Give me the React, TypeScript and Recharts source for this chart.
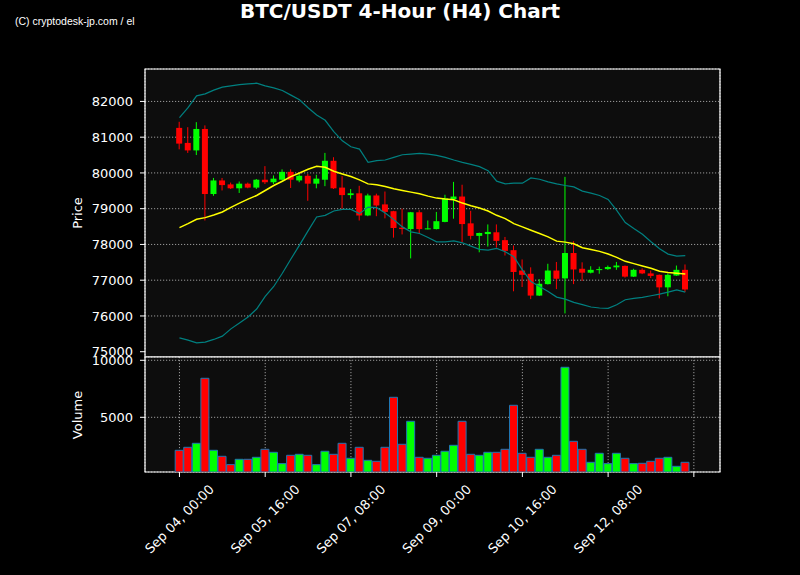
import React from 'react';
import { ComposedChart, Bar, Line, XAxis, YAxis, CartesianGrid, Cell, ReferenceArea } from 'recharts';

const opens = [81260, 80840, 80630, 81230, 79410, 79790, 79680, 79570, 79700, 79590,
  79810, 79740, 79810, 80030, 79790, 79920, 79700, 79810, 80340, 79590,
  79380, 79430, 78810, 79370, 79120, 78930, 78470, 78430, 78900, 78430,
  78430, 78630, 79270, 79340, 78590, 78240, 78290, 78340, 78120, 77840,
  77270, 77180, 76570, 76890, 77270, 77050, 77760, 77320, 77210, 77290,
  77310, 77360, 77400, 77100, 77290, 77190, 77150, 76800, 77130, 77290];
const highs = [81430, 81280, 81420, 81330, 79860, 79860, 79730, 79760, 79730, 79830,
  80190, 79930, 80100, 80100, 79970, 79970, 79950, 80560, 80440, 79910,
  79550, 79640, 79420, 79420, 79480, 78940, 79000, 78910, 78960, 78670,
  78910, 79390, 79750, 79670, 78940, 78330, 78560, 78560, 78210, 77970,
  77580, 77360, 77030, 77460, 77510, 79890, 78090, 77500, 77390, 77380,
  77410, 77510, 77410, 77320, 77330, 77270, 77160, 77190, 77410, 77440];
const lows = [80660, 80560, 80500, 78670, 79360, 79510, 79550, 79440, 79570, 79550,
  79690, 79690, 79790, 79580, 79740, 79220, 79570, 79630, 79550, 79000,
  79280, 78670, 78790, 78790, 78730, 78190, 78280, 77610, 78290, 78420,
  78420, 78620, 78720, 78060, 78140, 77780, 77940, 77910, 77690, 76690,
  76810, 76470, 76560, 76880, 76750, 76070, 76890, 76980, 77190, 77180,
  77290, 77290, 77070, 77090, 77170, 77060, 76490, 76550, 77120, 76670];
const closes = [80820, 80630, 81230, 79410, 79790, 79660, 79570, 79700, 79590, 79810,
  79740, 79840, 80030, 79810, 79920, 79700, 79840, 80340, 79570, 79380,
  79430, 78810, 79370, 79090, 78910, 78460, 78430, 78900, 78430, 78450,
  78650, 79290, 79340, 78570, 78240, 78320, 78350, 78100, 77820, 77230,
  77150, 76570, 76900, 77270, 77040, 77760, 77300, 77210, 77290, 77310,
  77370, 77410, 77100, 77290, 77190, 77120, 76800, 77150, 77290, 76740];
const volumes = [2105, 2368, 2719, 8421, 2105, 1579, 848, 1316, 1316, 1491,
  2193, 1930, 936, 1667, 1754, 1667, 848, 2018, 1754, 2719,
  1404, 2368, 1228, 1140, 2368, 6754, 2632, 4649, 1491, 1404,
  1667, 2018, 2544, 4649, 1754, 1667, 1930, 1930, 2193, 6053,
  1842, 1491, 2193, 1491, 1667, 9386, 2895, 2193, 1053, 1842,
  936, 1842, 1404, 936, 965, 1140, 1404, 1491, 702, 1053];
const upperBand = [81546, 81824, 82157, 82213, 82315, 82398, 82435, 82472, 82491, 82509,
  82435, 82380, 82306, 82176, 82046, 81824, 81620, 81472, 81157, 80898,
  80731, 80667, 80296, 80343, 80361, 80435, 80509, 80528, 80546, 80528,
  80491, 80435, 80361, 80296, 80241, 80176, 80065, 79769, 79694, 79713,
  79713, 79861, 79824, 79750, 79694, 79648, 79611, 79491, 79435, 79370,
  79259, 78954, 78611, 78444, 78287, 78074, 77880, 77731, 77676, 77685];
const middleBand = [78472, 78583, 78704, 78750, 78824, 78907, 79037, 79157, 79269, 79370,
  79509, 79648, 79768, 79898, 80000, 80102, 80185, 80157, 80046, 79972,
  79898, 79806, 79694, 79667, 79620, 79556, 79509, 79463, 79417, 79352,
  79296, 79269, 79250, 79157, 79083, 79019, 78935, 78815, 78722, 78583,
  78491, 78398, 78306, 78213, 78093, 78065, 78019, 77907, 77861, 77806,
  77731, 77639, 77528, 77463, 77398, 77333, 77250, 77213, 77194, 77176];
const lowerBand = [75389, 75324, 75250, 75269, 75343, 75435, 75639, 75806, 75972, 76194,
  76546, 76824, 77194, 77593, 77981, 78380, 78768, 78815, 78935, 78981,
  78981, 78861, 79046, 79028, 78880, 78694, 78491, 78352, 78306, 78194,
  78074, 78074, 78102, 78046, 77954, 77861, 77843, 77889, 77796, 77657,
  77287, 76963, 76824, 76685, 76528, 76472, 76380, 76315, 76250, 76222,
  76213, 76315, 76454, 76491, 76519, 76565, 76611, 76667, 76731, 76667];

const tickValues = [0, 10, 20, 30, 40, 50, 60];
const tickLabels = ['Sep 04, 00:00', 'Sep 05, 16:00', 'Sep 07, 08:00', 'Sep 09, 00:00', 'Sep 10, 16:00', 'Sep 12, 08:00', ''];
const priceTicks = [75000, 76000, 77000, 78000, 79000, 80000, 81000, 82000];
const volumeTicks = [5000, 10000];

const data = opens.map((o, i) => ({
  idx: i,
  open: o,
  high: highs[i],
  low: lows[i],
  close: closes[i],
  volume: volumes[i],
  upper: upperBand[i],
  middle: middleBand[i],
  lower: lowerBand[i],
}));

const UP = '#00ff00';
const DOWN = '#ff0000';
const GRID = '#9a9a9a';
const PANEL = '#0d0d0d';
const FONT = 'DejaVu Sans, sans-serif';
const X_DOMAIN: [number, number] = [-4.02, 63.05];
const PRICE_DOMAIN: [number, number] = [74852, 82907];
const VOLUME_DOMAIN: [number, number] = [202, 10289];

const Candle = (props: any) => {
  const { x, y, width, height, payload } = props;
  if (!payload) return null;
  const { open, close, high, low } = payload;
  const color = close >= open ? UP : DOWN;
  const ratio = height / (high - low || 1);
  const cx = x + width / 2;
  const yo = y + (high - open) * ratio;
  const yc = y + (high - close) * ratio;
  const top = Math.min(yo, yc);
  const h = Math.max(Math.abs(yo - yc), 1);
  return (
    <g>
      <line x1={cx} x2={cx} y1={y} y2={y + height} stroke={color} strokeWidth={1} />
      <rect x={x} y={top} width={width} height={h} fill={color} />
    </g>
  );
};

const XTick = (props: any) => {
  const { x, y, payload } = props;
  const i = tickValues.indexOf(payload.value);
  const label = i >= 0 ? tickLabels[i] : '';
  return (
    <text
      transform={`translate(${x},${y + 42}) rotate(-45)`}
      textAnchor="middle"
      dominantBaseline="central"
      fill="#ffffff"
      fontSize={13}
      fontFamily={FONT}
    >
      {label}
    </text>
  );
};

const yTickStyle = { fill: '#ffffff', fontSize: 13, fontFamily: FONT };

export default function App() {
  return (
    <div style={{ position: 'fixed', left: 0, top: 0, width: 800, height: 575, background: '#000', overflow: 'hidden', fontFamily: FONT }}>
      <div style={{ position: 'absolute', left: 0, top: 0 }}>
        <ComposedChart width={800} height={360} data={data} margin={{ top: 69, right: 80, bottom: 3, left: 0 }}>
          <CartesianGrid xAxisId="x" yAxisId="y" stroke={GRID} strokeDasharray="1.2 1.8" fill={PANEL} fillOpacity={1} />
          <XAxis xAxisId="x" dataKey="idx" type="number" orientation="top" domain={X_DOMAIN} allowDataOverflow ticks={tickValues} tick={false} tickLine={false} height={0} axisLine={false} />
          <YAxis yAxisId="y" type="number" domain={PRICE_DOMAIN} allowDataOverflow ticks={priceTicks} width={145} tickSize={5} tickMargin={7} tick={yTickStyle} tickLine={{ stroke: '#fff' }} axisLine={false} />
          <Bar xAxisId="x" yAxisId="y" dataKey={(d: any) => [d.low, d.high]} barSize={6} shape={Candle} isAnimationActive={false} />
          <Line xAxisId="x" yAxisId="y" type="linear" dataKey="upper" stroke="#008080" strokeWidth={1.2} dot={false} isAnimationActive={false} />
          <Line xAxisId="x" yAxisId="y" type="linear" dataKey="lower" stroke="#008080" strokeWidth={1.2} dot={false} isAnimationActive={false} />
          <Line xAxisId="x" yAxisId="y" type="linear" dataKey="middle" stroke="#ffff00" strokeWidth={1.5} dot={false} isAnimationActive={false} />
          <ReferenceArea xAxisId="x" yAxisId="y" x1={X_DOMAIN[0]} x2={X_DOMAIN[1]} y1={PRICE_DOMAIN[0]} y2={PRICE_DOMAIN[1]} fill="none" stroke="#ffffff" strokeWidth={1.2} ifOverflow="visible" />
        </ComposedChart>
      </div>
      <div style={{ position: 'absolute', left: 0, top: 340 }}>
        <ComposedChart width={800} height={235} data={data} margin={{ top: 17, right: 80, bottom: 0, left: 0 }}>
          <CartesianGrid xAxisId="x" yAxisId="v" stroke={GRID} strokeDasharray="1.2 1.8" fill={PANEL} fillOpacity={1} />
          <XAxis xAxisId="x" dataKey="idx" type="number" domain={X_DOMAIN} allowDataOverflow ticks={tickValues} tick={XTick} tickSize={5} tickMargin={0} height={103} tickLine={{ stroke: '#fff' }} axisLine={false} interval={0} />
          <YAxis yAxisId="v" type="number" domain={VOLUME_DOMAIN} allowDataOverflow ticks={volumeTicks} width={145} tickSize={5} tickMargin={7} tick={yTickStyle} tickLine={{ stroke: '#fff' }} axisLine={false} />
          <Bar xAxisId="x" yAxisId="v" dataKey="volume" barSize={8} stroke="#1f77b4" strokeWidth={1} isAnimationActive={false}>
            {data.map((d, i) => (
              <Cell key={i} fill={d.close >= d.open ? UP : DOWN} />
            ))}
          </Bar>
          <ReferenceArea xAxisId="x" yAxisId="v" x1={X_DOMAIN[0]} x2={X_DOMAIN[1]} y1={VOLUME_DOMAIN[0]} y2={VOLUME_DOMAIN[1]} fill="none" stroke="#ffffff" strokeWidth={1.2} ifOverflow="visible" />
        </ComposedChart>
      </div>
      <svg width={800} height={575} style={{ position: 'absolute', left: 0, top: 0, pointerEvents: 'none' }}>
        <text x={400} y={18} textAnchor="middle" fill="#fff" fontSize={20} fontWeight="bold" fontFamily={FONT}>BTC/USDT 4-Hour (H4) Chart</text>
        <text x={15} y={25} fill="#fff" fontSize={10.5} fontFamily="'Liberation Sans Narrow', 'Liberation Sans', sans-serif">(C) cryptodesk-jp.com / el</text>
        <text transform="translate(82,213) rotate(-90)" textAnchor="middle" fill="#fff" fontSize={13} fontFamily={FONT}>Price</text>
        <text transform="translate(82,415) rotate(-90)" textAnchor="middle" fill="#fff" fontSize={13} fontFamily={FONT}>Volume</text>
      </svg>
    </div>
  );
}
